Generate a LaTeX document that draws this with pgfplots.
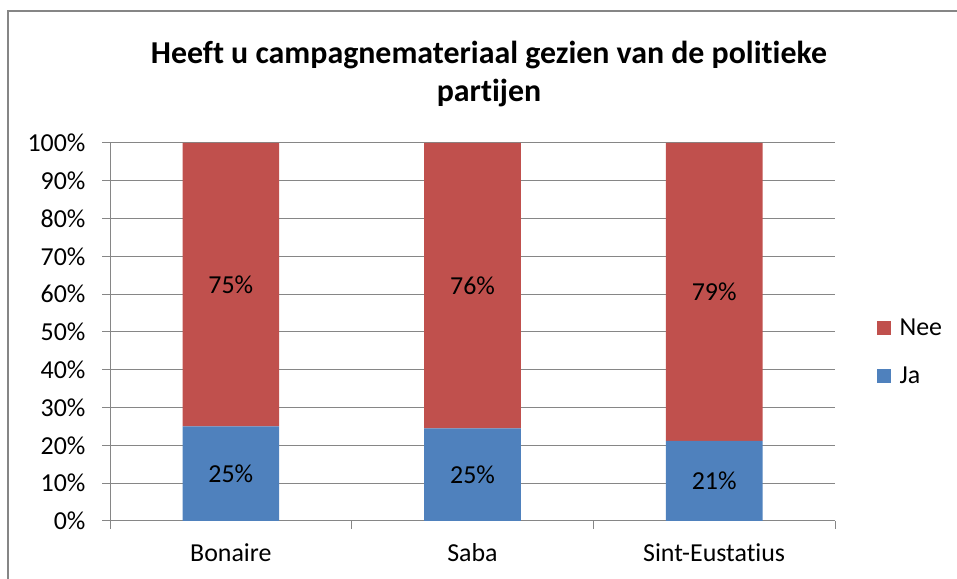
\documentclass[border=0pt]{standalone}
\usepackage{pgfplots}
\pgfplotsset{compat=1.18}
\usepackage{fontspec}
\setmainfont{Carlito}[Ligatures={NoCommon}]
\definecolor{nee}{HTML}{C0504D}
\definecolor{ja}{HTML}{4F81BD}
\definecolor{gridc}{HTML}{868686}
\begin{document}
\begin{tikzpicture}[x=1bp,y=1bp]
\useasboundingbox (0,0) rectangle (957,579);
\draw[color=gridc, line width=2bp] (8,0) -- (8,568) -- (957,568);
\node[font=\fontsize{32}{38}\selectfont\bfseries, align=center] at (489,505) {Heeft u campagnemateriaal gezien van de politieke\\partijen};
\begin{axis}[
  at={(110bp,58bp)}, anchor=south west,
  scale only axis, width=725bp, height=378bp,
  ybar stacked, bar width=0.4,
  xmin=-0.5, xmax=2.5, ymin=0, ymax=100,
  xtick={0,1,2}, xticklabels={Bonaire,Saba,Sint-Eustatius},
  minor xtick={-0.5,0.5,1.5,2.5},
  ytick={0,10,...,100},
  /pgf/number format/assume math mode=true,
  yticklabel={\pgfmathprintnumber{\tick}\%},
  axis x line*=bottom, axis y line*=left,
  axis line style={-, draw=gridc, line width=1bp},
  ymajorgrids, grid style={draw=gridc, line width=1bp},
  tick align=outside, major tick length=8bp, minor tick length=8bp,
  major x tick style={draw=none},
  minor x tick style={draw=gridc, line width=1bp},
  y tick style={draw=gridc, line width=1bp},
  tick label style={font=\fontsize{26}{30}\selectfont},
  xticklabel style={yshift=-11bp},
  yticklabel style={xshift=-13bp},
  reverse legend,
  legend style={draw=none, fill=none, at={(1.057,0.447)}, anchor=west,
    font=\fontsize{26}{30}\selectfont, row sep=26bp, column sep=7bp, inner sep=0pt,
    cells={anchor=west}},
  legend image code/.code={\fill[#1] (0bp,-7bp) rectangle (14bp,7bp);},
]
\addplot[fill=ja, draw=none] coordinates {(0,25) (1,24.5) (2,21.2)};
\addlegendentry{Ja}
\addplot[fill=nee, draw=none] coordinates {(0,75) (1,75.5) (2,78.8)};
\addlegendentry{Nee}
\end{axis}
\begin{axis}[
  at={(110bp,58bp)}, anchor=south west,
  scale only axis, width=725bp, height=378bp,
  xmin=-0.5, xmax=2.5, ymin=0, ymax=100, hide axis,
]
\addplot[draw=none, mark=none, nodes near coords, point meta=explicit symbolic,
  nodes near coords style={anchor=center, font=\fontsize{26}{30}\selectfont, text=black}]
  coordinates {(0,12.5)[25\%] (1,12.25)[25\%] (2,10.6)[21\%]
               (0,62.5)[75\%] (1,62.25)[76\%] (2,60.6)[79\%]};
\end{axis}
\end{tikzpicture}
\end{document}
